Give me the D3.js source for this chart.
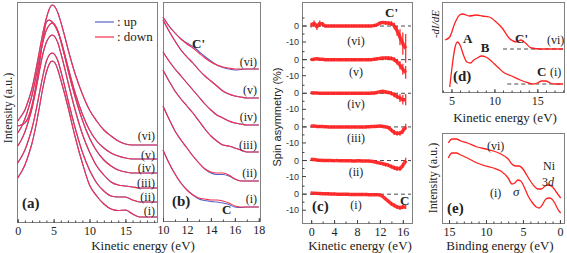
<!DOCTYPE html>
<html>
<head>
<meta charset="utf-8">
<script src="https://cdnjs.cloudflare.com/ajax/libs/d3/7.8.5/d3.min.js"></script>
<style>
body { margin: 0; background: white; }
svg { display: block; font-family: "Liberation Serif", "Times New Roman", serif; }
</style>
</head>
<body>
<div id="fig"></div>
<script>
var romans = ["(i)", "(ii)", "(iii)", "(iv)", "(v)", "(vi)"];

// (a) spin-resolved spectra, offset, a.u.  (rows i..vi)
var energyA = [0, 0.5, 1, 1.5, 2, 2.5, 3, 3.5, 4, 4.4, 4.8, 5.2, 5.6, 6, 6.5, 7, 8, 9, 10, 11, 12, 13, 14, 15, 16, 17, 18, 19.4];
var downA = [
  [44, 50, 57, 67, 79, 95, 114, 134, 150, 158, 161, 159, 152, 142, 129, 115, 85, 59, 37, 26, 18, 13, 11.5, 12, 8, 5, 5, 5],
  [59, 65, 72, 82, 94, 110, 128, 146, 161, 167, 169, 167, 161, 151, 137, 122, 94, 70, 52, 39, 31, 26, 25, 25, 22, 20, 20, 20],
  [76, 82, 90, 101, 114, 131, 150, 168, 180, 185, 187, 185, 179, 169, 155, 140, 112, 88, 70, 56, 47, 40, 37, 36, 35, 34, 34, 34],
  [89, 95, 103, 114, 127, 144, 163, 180, 192, 197, 199, 197, 191, 181, 167, 152, 125, 102, 84, 71, 62, 56, 52, 50, 49, 49, 49, 49],
  [96, 97, 99, 105, 117, 135, 157, 182, 200, 202, 200, 196, 190, 182, 169, 155, 129, 108, 92, 81, 74, 69, 66, 64, 63, 63, 63, 63],
  [101, 106, 112, 122, 134, 151, 170, 189, 204, 213, 217, 215, 209, 200, 187, 173, 148, 128, 112, 101, 92, 86, 81, 78, 77, 77, 77, 77]
];
var upA = downA;

// (b) magnified 10-18 eV
var energyB = [10, 10.5, 11, 11.5, 12, 12.5, 13, 13.5, 14, 14.5, 15, 15.5, 16, 16.5, 17, 18];
var downB = [
  [70, 57, 46, 37, 30, 25, 22, 21, 20, 20, 19, 17, 14, 13, 13, 13],
  [114, 101, 89, 80, 72, 64, 57, 51, 48, 47, 47, 45, 41, 39, 39, 39],
  [150, 139, 129, 121, 114, 107, 99, 91, 84, 79, 75, 74, 72, 70, 68, 68],
  [168, 159, 151, 144, 137, 130, 123, 116, 110, 105, 102, 99, 97, 96, 95, 95],
  [200, 189, 179, 170, 163, 157, 150, 144, 139, 134, 129, 126, 124, 123, 122, 122],
  [203, 194, 187, 181, 176, 172, 167, 162, 158, 155, 153, 152, 151, 151, 151, 151]
];
var upB1 = [70, 57, 46, 37, 30, 25, 21, 19.5, 18.5, 18, 17, 15.5, 13, 12.5, 13, 13];
var upB2 = [114, 101, 89, 80, 72, 64, 57, 51, 47, 45.5, 45.5, 44, 41, 39, 39, 39];
var upB6 = [203, 194, 187, 181, 177, 173.5, 168.5, 163.5, 159, 155, 152.5, 151, 150, 150.5, 151, 151];
var upB = [upB1, upB2, downB[2], downB[3], downB[4], upB6];

// (c) spin asymmetry (%) and error bars
var energyC = [0, 0.5, 1, 1.5, 2, 2.5, 3, 3.5, 4, 4.5, 5, 5.5, 6, 6.5, 7, 7.5, 8, 8.5, 9, 9.5, 10, 10.5, 11, 11.5, 12, 12.5, 13, 13.5, 14, 14.5, 15, 15.5, 16, 16.5];
var asymC = [
  [0.8, 0.6, 0.5, 0.4, 0.3, 0.2, 0.2, 0.1, 0.1, 0, 0, 0, 0, -0.1, -0.2, -0.2, -0.2, -0.2, -0.2, -0.2, -0.3, -0.3, -0.3, -0.4, -0.5, -1.5, -3, -4.5, -6, -7, -8, -8.5, -8, -8],
  [0.8, 0.6, 0.3, 0.2, 0.1, 0, 0, 0, -0.1, 0, -0.1, -0.1, -0.2, -0.2, -0.2, -0.3, -0.2, -0.2, -0.3, -0.3, -0.3, -0.5, -0.8, -1.2, -1.6, -2, -2.5, -3, -3.8, -4.5, -5, -5, -3, 0],
  [0.5, 0.5, 0.3, 0.2, 0.2, 0.1, 0, 0, 0, 0, 0, -0.1, 0, 0, -0.1, 0, 0, 0, 0, 0, 0.1, 0.2, 0.3, 0.4, 0.5, 0.3, 0, -0.5, -2, -3.5, -4, -4, -2.5, 0],
  [0.3, 0.2, 0.2, 0, 0, 0, 0, 0, 0, 0, 0, 0, 0, 0, 0, 0, 0, 0, 0, 0, 0, 0.1, 0.2, 0.5, 1, 1.2, 0.8, 0.5, 0, -1, -2, -3, -4, -4],
  [0, 0.3, 0.5, 0.3, 0.2, 0, 0, 0, 0, 0, 0, 0, 0, 0, 0, 0, 0, 0, 0, 0, 0, 0, 0.3, 0.5, 0.8, 1, 1, 1, 0.8, 0, -1.5, -3.5, -6, -8],
  [0.5, 1.5, -0.5, 1.5, 1, 0, 0, 0, 0, 0, 0, 0, 0, 0, 0, 0, 0, 0, 0, 0, 0, 0, 0.3, 0.8, 1.8, 2.2, 2, 1.8, 1.5, 0, -3, -7, -11, -14]
];
var errC = [
  [0.8, 0.8, 0.8, 0.8, 0.8, 0.8, 0.8, 0.8, 0.8, 0.8, 0.8, 0.8, 0.8, 0.8, 0.8, 0.8, 0.8, 0.8, 0.8, 0.8, 0.8, 0.8, 0.8, 0.8, 0.8, 0.8, 1, 1, 1.2, 1.2, 1.2, 1.2, 1.2, 1.2],
  [0.8, 0.8, 0.8, 0.8, 0.8, 0.8, 0.8, 0.8, 0.8, 0.8, 0.8, 0.8, 0.8, 0.8, 0.8, 0.8, 0.8, 0.8, 0.8, 0.8, 0.8, 0.8, 0.8, 0.8, 0.8, 0.8, 1, 1, 1.2, 1.2, 1.5, 1.5, 1.5, 1.8],
  [0.8, 0.8, 0.8, 0.8, 0.8, 0.8, 0.8, 0.8, 0.8, 0.8, 0.8, 0.8, 0.8, 0.8, 0.8, 0.8, 0.8, 0.8, 0.8, 0.8, 0.8, 0.8, 0.8, 0.8, 0.8, 0.8, 1, 1, 1.2, 1.5, 1.5, 1.5, 2, 2],
  [0.8, 0.8, 0.8, 0.8, 0.8, 0.8, 0.8, 0.8, 0.8, 0.8, 0.8, 0.8, 0.8, 0.8, 0.8, 0.8, 0.8, 0.8, 0.8, 0.8, 0.8, 0.8, 0.8, 0.8, 0.8, 0.8, 1, 1, 1.2, 1.5, 1.5, 2.5, 3, 3.5],
  [0.8, 0.8, 0.8, 0.8, 0.8, 0.8, 0.8, 0.8, 0.8, 0.8, 0.8, 0.8, 0.8, 0.8, 0.8, 0.8, 0.8, 0.8, 0.8, 0.8, 0.8, 0.8, 0.8, 0.8, 0.8, 0.8, 1, 1, 1.2, 1.5, 1.5, 2.5, 3.5, 4],
  [1.5, 2, 2, 2, 1.5, 0.8, 0.8, 0.8, 0.8, 0.8, 0.8, 0.8, 0.8, 0.8, 0.8, 0.8, 0.8, 0.8, 0.8, 0.8, 0.8, 0.8, 0.8, 0.8, 0.8, 0.8, 1.2, 1.2, 1.5, 2, 3, 5, 7, 9]
];

// (d) -dI/dE
var energyD1 = [4.8, 5.1, 5.4, 5.7, 6.0, 6.4, 6.8, 7.2, 7.6, 8.0, 8.5, 9.0, 9.5, 10, 10.5, 11, 12, 13, 14, 14.5, 15, 15.5, 16, 16.5, 17, 18];
var derivD1 = [5, 27, 44, 50, 47, 37, 30, 29, 32, 34, 36, 35, 32, 28, 24, 20, 16, 12, 9, 8, 9, 11, 11, 9, 8, 8];
var energyD6 = [4.25, 4.8, 5.4, 5.95, 6.3, 7.1, 7.9, 8.6, 9.4, 10.2, 10.9, 11.7, 12.5, 13.1, 13.6, 14.3, 15.4, 18];
var derivD6 = [52, 55, 69, 77, 78, 76, 77, 76, 75, 70, 64, 54, 50, 52, 49, 44, 43, 43];
var baseD = [{ level: 8, from: 11.5 }, { level: 43, from: 11 }];

// (e) valence band, binding energy
var bindE1 = [15.1, 14.6, 14.0, 13.4, 12.5, 11.2, 10, 9, 8, 7.0, 6.5, 6.1, 5.7, 5.3, 4.9, 4.3, 3.8, 3.2, 2.8, 2.4, 1.9, 1.5, 1.1, 0.7, 0.3, -0.1];
var intE1 = [65, 70, 70, 68, 65, 60, 57, 55, 52, 45, 39, 40, 43, 42, 37, 27, 21, 16, 15, 18, 24, 25, 24, 20, 14, 10];
var bindE6 = [15.1, 14.6, 14.0, 13.4, 12.5, 11.2, 10, 9, 8, 7.0, 6.5, 6.0, 5.5, 5.0, 4.5, 4, 3.5, 3.0, 2.5, 2.0, 1.5, 1.0, 0.5, -0.1];
var intE6 = [80, 84, 84, 82, 80, 76, 74, 72, 69, 64, 59, 57, 57, 54, 48, 42, 37, 34, 34, 37, 38, 36, 31, 25];

var redSpec = "#f4304f", blueSpec = "#5563c8", red = "#ff2020", frameCol = "#808080";

var svg = d3.select("#fig").append("svg")
  .attr("width", 567)
  .attr("height", 253)
  .style("background", "white");

function frame(x0, y0, x1, y1) {
  svg.append("rect")
    .attr("x", x0 + 0.5).attr("y", y0 + 0.5)
    .attr("width", x1 - x0).attr("height", y1 - y0)
    .attr("fill", "none").attr("stroke", frameCol);
}

function bottomAxis(scale, y, major, minor) {
  var gmin = svg.append("g").attr("transform", "translate(0," + (y + 0.5) + ")")
    .call(d3.axisBottom(scale).tickValues(minor).tickSizeInner(-2).tickSizeOuter(0));
  var gmaj = svg.append("g").attr("transform", "translate(0," + (y + 0.5) + ")")
    .call(d3.axisBottom(scale).tickValues(major).tickSizeInner(-3.5).tickSizeOuter(0).tickPadding(4).tickFormat(d3.format("d")));
  gmin.selectAll("text").remove();
  [gmin, gmaj].forEach(function (g) {
    g.select(".domain").remove();
    g.selectAll("line").attr("stroke", "#444");
  });
  gmaj.selectAll("text").attr("font-family", "Liberation Serif").attr("font-size", 12).attr("fill", "#222");
}

function label(x, y, txt, opts) {
  opts = opts || {};
  var t = svg.append("text").attr("x", x).attr("y", y)
    .attr("font-size", opts.size || 12)
    .attr("fill", "#222")
    .attr("text-anchor", opts.anchor || "start")
    .text(txt);
  if (opts.bold) t.attr("font-weight", "bold");
  if (opts.italic) t.attr("font-style", "italic");
  if (opts.sans) t.attr("font-family", "Liberation Sans");
  if (opts.rotate) t.attr("transform", "rotate(-90," + x + "," + y + ")");
  return t;
}

function range(a, b, s) { return d3.range(a, b + s / 2, s); }

// ---------- panel (a) ----------
var xA = d3.scaleLinear().domain([-0.1, 19.4]).range([17, 157]);
var yA = d3.scaleLinear().domain([0, 220]).range([222, 2]);
var lineA = d3.line().curve(d3.curveMonotoneX)
  .x(function (d, i) { return xA(energyA[i]); })
  .y(function (d) { return yA(d); });

frame(17, 2, 157, 222);
upA.forEach(function (s) {
  svg.append("path").attr("d", lineA(s)).attr("fill", "none").attr("stroke", blueSpec).attr("stroke-width", 1.1);
});
downA.forEach(function (s) {
  svg.append("path").attr("d", lineA(s)).attr("fill", "none").attr("stroke", redSpec).attr("stroke-width", 1.1);
});
bottomAxis(xA, 222, [0, 5, 10, 15], range(0, 19, 1));

var legend = [{ c: blueSpec, t: ": up", y: 22 }, { c: redSpec, t: ": down", y: 37 }];
legend.forEach(function (d) {
  svg.append("line").attr("x1", 95).attr("x2", 114).attr("y1", d.y).attr("y2", d.y)
    .attr("stroke", d.c).attr("stroke-width", 1.2);
  label(117, d.y + 4, d.t, { size: 13 });
});
var romanYA = [215, 201, 187, 172, 159, 140];
romans.forEach(function (r, i) { label(155, romanYA[i], r, { anchor: "end" }); });
label(22, 208, "(a)", { size: 15, bold: true });
label(12, 108, "Intensity (a.u.)", { size: 12, anchor: "middle", rotate: true });

// ---------- panel (b) ----------
var xB = d3.scaleLinear().domain([10, 18.1]).range([163, 260]);
var yB = d3.scaleLinear().domain([0, 218]).range([220, 2]);
var lineB = d3.line().curve(d3.curveMonotoneX)
  .x(function (d, i) { return xB(energyB[i]); })
  .y(function (d) { return yB(d); });

frame(163, 2, 260, 221);
upB.forEach(function (s) {
  svg.append("path").attr("d", lineB(s)).attr("fill", "none").attr("stroke", blueSpec).attr("stroke-width", 1.1);
});
downB.forEach(function (s) {
  svg.append("path").attr("d", lineB(s)).attr("fill", "none").attr("stroke", redSpec).attr("stroke-width", 1.1);
});
bottomAxis(xB, 221, [10, 12, 14, 16, 18], range(10, 18, 1));
var romanYB = [203, 177, 149, 121, 94, 66];
romans.forEach(function (r, i) { label(257, romanYB[i], r, { anchor: "end" }); });
label(172, 206, "(b)", { size: 15, bold: true });
label(192, 48, "C'", { size: 13, bold: true });
label(222, 214, "C", { size: 13, bold: true });
label(143, 250, "Kinetic energy (eV)", { size: 13, anchor: "middle" });

// ---------- panel (c) ----------
var rowStep = 21;
var xC = d3.scaleLinear().domain([-1.6, 17.6]).range([302, 412]);
var yC = d3.scaleLinear().domain([-18, 120]).range([223, 2]);
frame(302, 2, 412, 223);

asymC.forEach(function (row, k) {
  var off = k * rowStep;
  svg.append("line")
    .attr("x1", 303).attr("x2", 411)
    .attr("y1", yC(off)).attr("y2", yC(off))
    .attr("stroke", "#333").attr("stroke-dasharray", "4,3").attr("stroke-width", 0.9);
  [5, 0, -5, -10].forEach(function (t) {
    svg.append("line").attr("x1", 302).attr("x2", t % 10 === 0 ? 306 : 304.5)
      .attr("y1", yC(off + t)).attr("y2", yC(off + t)).attr("stroke", "#444");
  });
  [0, -10].forEach(function (t) {
    label(299, yC(off + t) + 3, String(t), { size: 9, sans: true, anchor: "end" }).attr("fill", "#333");
  });
  svg.append("g").selectAll("line")
    .data(row)
    .enter().append("line")
    .attr("x1", function (d, i) { return xC(energyC[i]); })
    .attr("x2", function (d, i) { return xC(energyC[i]); })
    .attr("y1", function (d, i) { return yC(off + d - errC[k][i]); })
    .attr("y2", function (d, i) { return yC(off + d + errC[k][i]); })
    .attr("stroke", red).attr("stroke-width", 1.2);
  svg.append("path")
    .attr("d", d3.line().curve(d3.curveMonotoneX)
      .x(function (d, i) { return xC(energyC[i]); })
      .y(function (d) { return yC(off + d); })(row))
    .attr("fill", "none").attr("stroke", red).attr("stroke-width", 3.5).attr("stroke-opacity", 0.9);
});
bottomAxis(xC, 223, [0, 4, 8, 12, 16], range(0, 16, 2));
var romanYC = [209, 176, 142, 108, 76, 45];
romans.forEach(function (r, i) { label(356, romanYC[i], r, { anchor: "middle" }); });
label(312, 211, "(c)", { size: 15, bold: true });
label(400, 205, "C", { size: 13, bold: true });
label(385, 17, "C'", { size: 13, bold: true });
label(360, 250, "Kinetic energy (eV)", { size: 13, anchor: "middle" });
label(281, 117, "Spin asymmetry (%)", { size: 11, sans: true, anchor: "middle", rotate: true });

// ---------- panel (d) ----------
var xD = d3.scaleLinear().domain([3.9, 18.1]).range([442, 564]);
var yD = d3.scaleLinear().domain([0, 90]).range([92, 2]);
frame(442, 2, 564, 92);
baseD.forEach(function (b) {
  svg.append("line").attr("x1", xD(b.from)).attr("x2", xD(18))
    .attr("y1", yD(b.level)).attr("y2", yD(b.level))
    .attr("stroke", "#333").attr("stroke-dasharray", "4,3").attr("stroke-width", 0.9);
});
[[energyD1, derivD1], [energyD6, derivD6]].forEach(function (p) {
  svg.append("path")
    .attr("d", d3.line().curve(d3.curveMonotoneX)
      .x(function (d, i) { return xD(p[0][i]); })
      .y(function (d) { return yD(d); })(p[1]))
    .attr("fill", "none").attr("stroke", red).attr("stroke-width", 1.3);
});
bottomAxis(xD, 92, [5, 10, 15], range(4, 18, 1));
label(463, 43, "A", { size: 13, bold: true });
label(485, 52, "B", { size: 13, bold: true, anchor: "middle" });
label(515, 43, "C'", { size: 13, bold: true });
label(547, 44, "(vi)");
label(453, 81, "(d)", { size: 15, bold: true });
label(537, 76, "C", { size: 13, bold: true });
label(550, 76, "(i)");
label(439, 24, "-dI/dE", { size: 11, italic: true, anchor: "middle", rotate: true });
label(505, 122, "Kinetic energy (eV)", { size: 13, anchor: "middle" });

// ---------- panel (e) ----------
var xE = d3.scaleLinear().domain([15.95, -0.55]).range([442, 564]);
var yE = d3.scaleLinear().domain([0, 90]).range([223, 133]);
frame(442, 133, 564, 223);
[[bindE1, intE1], [bindE6, intE6]].forEach(function (p) {
  svg.append("path")
    .attr("d", d3.line().curve(d3.curveMonotoneX)
      .x(function (d, i) { return xE(p[0][i]); })
      .y(function (d) { return yE(d); })(p[1]))
    .attr("fill", "none").attr("stroke", red).attr("stroke-width", 1.3);
});
bottomAxis(xE, 223, [15, 10, 5, 0], range(0, 15, 1));
label(487, 150, "(vi)");
label(490, 197, "(i)");
label(513, 196, "σ", { size: 13, italic: true });
label(543, 170, "Ni", { size: 12 });
var nd = label(542, 186, "3", { size: 12 });
nd.append("tspan").attr("font-style", "italic").text("d");
label(447, 213, "(e)", { size: 15, bold: true });
label(437, 178, "Intensity (a.u.)", { size: 12, anchor: "middle", rotate: true });
label(500, 250, "Binding energy (eV)", { size: 13, anchor: "middle" });
</script>
</body>
</html>
